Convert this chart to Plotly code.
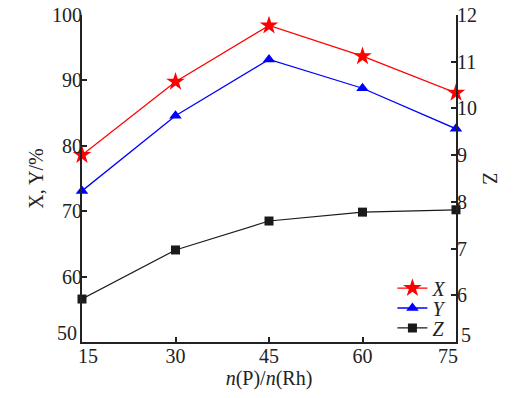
import plotly.graph_objects as go

ratio = [15, 30, 45, 60, 75]
x_vals = [78.6, 89.8, 98.4, 93.7, 88.1]
y_vals = [73.1, 84.6, 93.2, 88.8, 82.6]
z_vals = [5.92, 6.97, 7.59, 7.78, 7.83]

x_ticks = [15, 30, 45, 60, 75]
y_ticks = [50, 60, 70, 80, 90, 100]
z_ticks = [5, 6, 7, 8, 9, 10, 11, 12]

font_family = "Liberation Serif"
tick_font = dict(family=font_family, size=20, color="#222")

fig = go.Figure()
fig.add_trace(go.Scatter(x=ratio, y=x_vals, name="<i>X</i>", mode="lines+markers",
                         line=dict(color="#ff0000", width=1.3),
                         marker=dict(symbol="star", size=14, color="#ff0000"),
                         cliponaxis=False, legend="legend", showlegend=True))
fig.add_trace(go.Scatter(x=ratio, y=y_vals, name="<i>Y</i>", mode="lines+markers",
                         line=dict(color="#0000ff", width=1.3),
                         marker=dict(symbol="triangle-up", size=11, color="#0000ff"),
                         cliponaxis=False, legend="legend2", showlegend=True))
fig.add_trace(go.Scatter(x=ratio, y=z_vals, name="<i>Z</i>", mode="lines+markers",
                         line=dict(color="#1a1a1a", width=1.2),
                         marker=dict(symbol="square", size=9, color="#1a1a1a"),
                         yaxis="y2", cliponaxis=False, legend="legend3", showlegend=True))

axis_common = dict(showline=True, linecolor="#222", linewidth=2, ticks="inside",
                   ticklen=5, tickcolor="#222", tickwidth=1.5, showgrid=False,
                   zeroline=False, automargin=False, ticklabeloverflow="allow",
                   tickfont=tick_font)

def leg(y):
    return dict(x=0.83, y=y, xanchor="left", yanchor="middle",
                bgcolor="rgba(0,0,0,0)", itemwidth=30,
                font=dict(family=font_family, size=20, color="#222"))

# corner tick labels are nudged inward (as in the reference) to avoid collisions
ann = [
    dict(text=str(y_ticks[0]), xref="paper", x=0, yref="y", y=y_ticks[0],
         xanchor="right", yanchor="middle", xshift=-3, yshift=9, showarrow=False,
         font=tick_font),
    dict(text=str(z_ticks[0]), xref="paper", x=1, yref="y2", y=z_ticks[0],
         xanchor="left", yanchor="middle", xshift=3, yshift=7, showarrow=False,
         font=tick_font),
    dict(text=str(x_ticks[0]), xref="x", x=x_ticks[0], yref="paper", y=0,
         xanchor="center", yanchor="top", xshift=6, yshift=-1, showarrow=False,
         font=tick_font),
    dict(text=str(x_ticks[-1]), xref="x", x=x_ticks[-1], yref="paper", y=0,
         xanchor="center", yanchor="top", xshift=-8, yshift=-1, showarrow=False,
         font=tick_font),
    dict(text="Z", x=1.0, xref="paper", xshift=34, xanchor="center",
         y=0.5, yref="paper", showarrow=False, textangle=90, font=tick_font),
]

fig.update_layout(
    width=517, height=398,
    margin=dict(l=82, r=61, t=15, b=56),
    paper_bgcolor="white", plot_bgcolor="white",
    showlegend=True,
    font=dict(family=font_family, size=20, color="#222"),
    xaxis=dict(range=[x_ticks[0], x_ticks[-1]], tickvals=x_ticks[1:-1],
               ticklabelstandoff=-5, **axis_common,
               title=dict(text="<i>n</i>(P)/<i>n</i>(Rh)", standoff=4,
                          font=dict(family=font_family, size=20))),
    yaxis=dict(range=[y_ticks[0], y_ticks[-1]], tickvals=y_ticks[1:],
               ticklabelstandoff=-6, **axis_common,
               title=dict(text="X, Y/%", standoff=3,
                          font=dict(family=font_family, size=20))),
    yaxis2=dict(range=[z_ticks[0], z_ticks[-1]], tickvals=z_ticks[1:], overlaying="y",
                side="right", ticklabelstandoff=-5, **axis_common),
    legend=leg(0.165),
    legend2=leg(0.104),
    legend3=leg(0.043),
    annotations=ann,
)

fig.write_html("out.html", config={"displayModeBar": False},
               post_script="document.body.style.margin='0';")
